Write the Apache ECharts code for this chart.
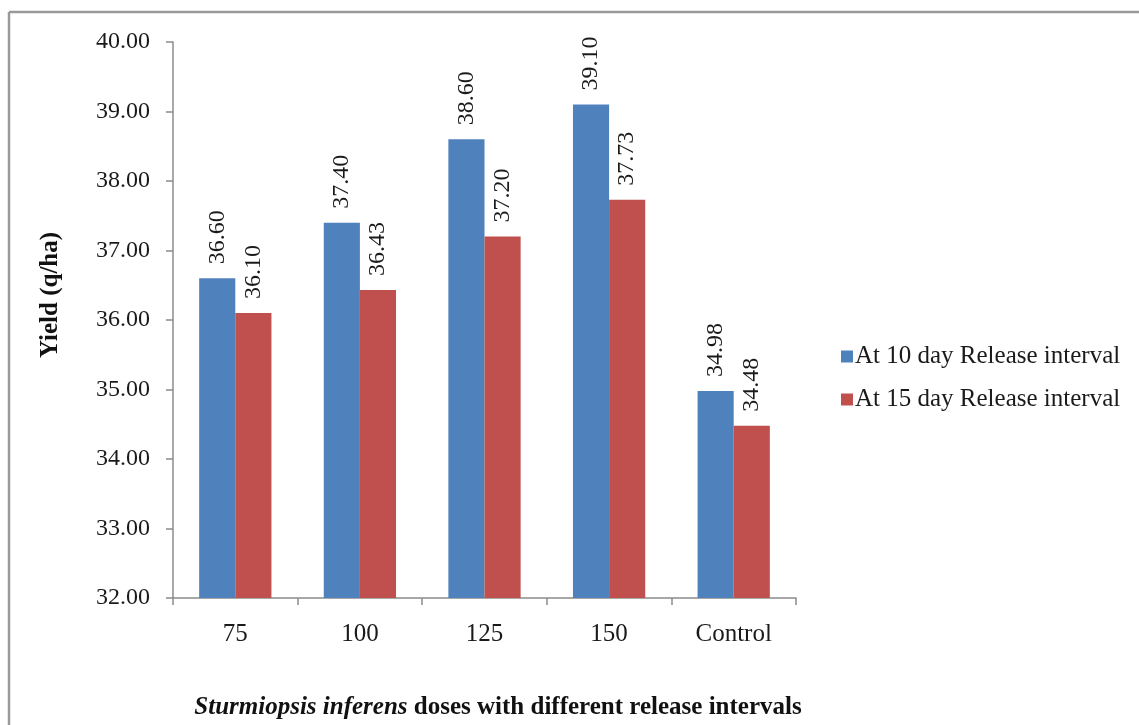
<!DOCTYPE html>
<html>
<head>
<meta charset="utf-8">
<script src="https://cdn.jsdelivr.net/npm/echarts@6/dist/echarts.min.js"></script>
<style>
  html, body { margin: 0; padding: 0; background: #fff; }
  #chart { width: 1139px; height: 725px; }
</style>
</head>
<body>
<div id="chart"></div>
<script>
// Sturmiopsis inferens release doses
const categories = ['75', '100', '125', '150', 'Control'];
const seriesNames = ['At 10 day Release interval', 'At 15 day Release interval'];
const yield10Day = [36.60, 37.40, 38.60, 39.10, 34.98];
const yield15Day = [36.10, 36.43, 37.20, 37.73, 34.48];
const yTicks = { min: 32, max: 40, step: 1 };

const serif = '"Liberation Serif", "DejaVu Serif", serif';
const axisGrey = '#8c8c8c';

const valueLabel = {
  show: true,
  position: 'top',
  rotate: 90,
  align: 'left',
  verticalAlign: 'middle',
  distance: 14,
  fontFamily: serif,
  fontSize: 24,
  color: '#1a1a1a',
  formatter: p => p.value.toFixed(2)
};

const chart = echarts.init(document.getElementById('chart'), null, { renderer: 'canvas' });

chart.setOption({
  backgroundColor: '#ffffff',
  animation: false,
  grid: { left: 173, right: 343, top: 42, bottom: 127, containLabel: false },
  legend: {
    orient: 'vertical',
    left: 836,
    top: 339,
    itemWidth: 12,
    itemHeight: 12,
    itemGap: 18,
    icon: 'rect',
    textStyle: { fontFamily: serif, fontSize: 25, color: '#1a1a1a', padding: [0, 0, 0, -3] },
    data: seriesNames
  },
  xAxis: {
    type: 'category',
    data: categories,
    axisLine: { lineStyle: { color: axisGrey, width: 1.5 } },
    axisTick: { show: true, length: 7, lineStyle: { color: axisGrey, width: 1.5 } },
    axisLabel: { fontFamily: serif, fontSize: 25, color: '#1a1a1a', margin: 24 },
    splitLine: { show: false }
  },
  yAxis: {
    type: 'value',
    min: yTicks.min,
    max: yTicks.max,
    interval: yTicks.step,
    axisLine: { show: true, lineStyle: { color: axisGrey, width: 1.5 } },
    axisTick: { show: true, length: 7, lineStyle: { color: axisGrey, width: 1.5 } },
    axisLabel: {
      fontFamily: serif, fontSize: 24, color: '#1a1a1a', margin: 23,
      formatter: v => v.toFixed(2)
    },
    splitLine: { show: false }
  },
  series: [
    {
      name: seriesNames[0],
      type: 'bar',
      data: yield10Day,
      barGap: '0%',
      barCategoryGap: '42%',
      itemStyle: { color: '#4F81BD' },
      label: valueLabel
    },
    {
      name: seriesNames[1],
      type: 'bar',
      data: yield15Day,
      barGap: '0%',
      barCategoryGap: '42%',
      itemStyle: { color: '#C0504D' },
      label: valueLabel
    }
  ],
  graphic: [
    // outer frame (top and left edges)
    { type: 'line', silent: true, shape: { x1: 9, y1: 12, x2: 1139, y2: 12 }, style: { stroke: '#9a9a9a', lineWidth: 2.5 } },
    { type: 'line', silent: true, shape: { x1: 9, y1: 12, x2: 9, y2: 725 }, style: { stroke: '#9a9a9a', lineWidth: 2.5 } },
    // y axis title
    {
      type: 'text',
      x: 51, y: 295,
      rotation: Math.PI / 2,
      style: {
        text: 'Yield (q/ha)',
        fontFamily: serif, fontSize: 25, fontWeight: 'bold', fill: '#111',
        align: 'center', verticalAlign: 'middle'
      }
    },
    // x axis title
    {
      type: 'text',
      x: 498, y: 708,
      style: {
        text: '{it|Sturmiopsis inferens} doses with different release intervals',
        fontFamily: serif, fontSize: 25, fontWeight: 'bold', fill: '#111',
        align: 'center', verticalAlign: 'middle',
        rich: {
          it: { fontFamily: serif, fontSize: 25, fontWeight: 'bold', fontStyle: 'italic', fill: '#111' }
        }
      }
    }
  ]
});
</script>
</body>
</html>
